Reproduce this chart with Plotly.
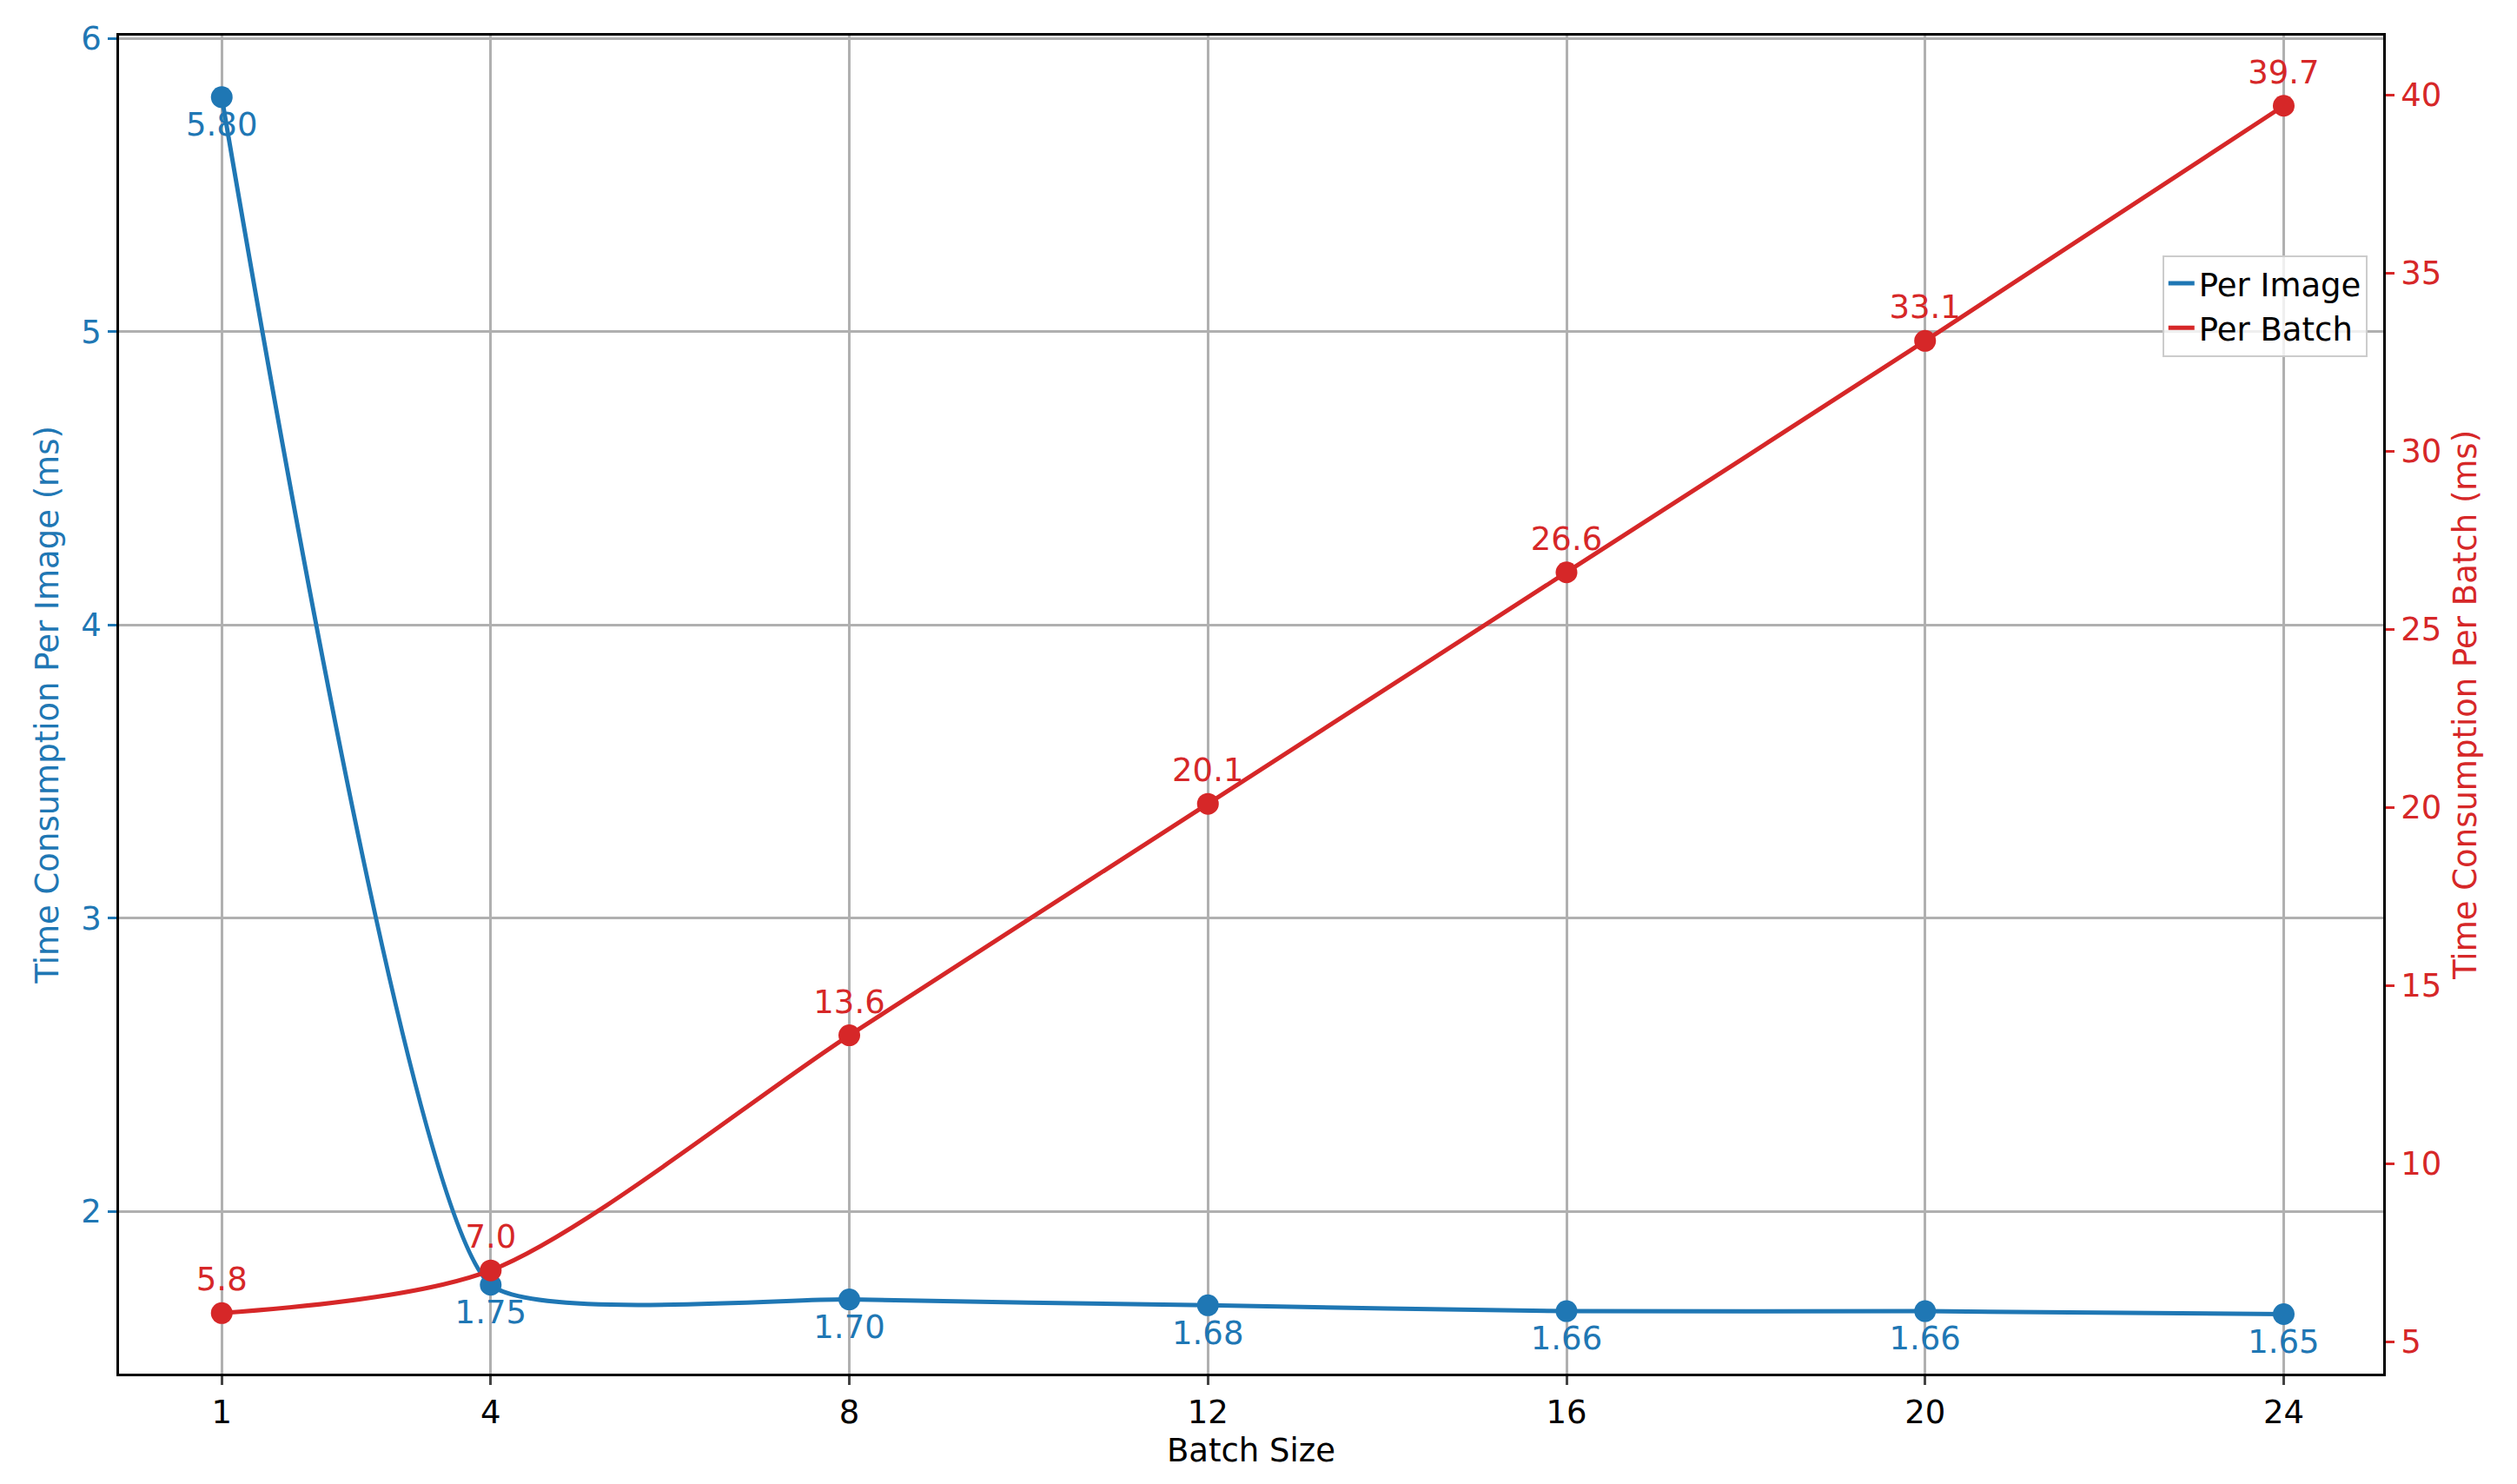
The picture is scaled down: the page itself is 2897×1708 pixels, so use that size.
import plotly.graph_objects as go

batch = [1, 4, 8, 12, 16, 20, 24]
per_image = [5.80, 1.75, 1.70, 1.68, 1.66, 1.66, 1.65]
per_batch = [5.8, 7.0, 13.6, 20.1, 26.6, 33.1, 39.7]
img_labels = ["5.80", "1.75", "1.70", "1.68", "1.66", "1.66", "1.65"]
batch_labels = ["5.8", "7.0", "13.6", "20.1", "26.6", "33.1", "39.7"]

BLUE = "#1f77b4"
RED = "#d62728"
FS = 37
FONT = dict(family="DejaVu Sans", size=FS, color="black")

fig = go.Figure()
fig.add_trace(go.Scatter(x=batch, y=per_image, mode="lines", name="Per Image",
                         line=dict(color=BLUE, width=5, shape="spline", smoothing=0.45)))
fig.add_trace(go.Scatter(x=batch, y=per_batch, mode="lines", name="Per Batch", yaxis="y2",
                         line=dict(color=RED, width=5, shape="spline", smoothing=0.8)))
fig.add_trace(go.Scatter(x=batch, y=per_image, mode="markers+text", showlegend=False,
                         marker=dict(color=BLUE, size=25), text=img_labels,
                         textposition="bottom center", textfont=dict(color=BLUE, size=FS)))
fig.add_trace(go.Scatter(x=batch, y=per_batch, mode="markers+text", showlegend=False, yaxis="y2",
                         marker=dict(color=RED, size=25), text=batch_labels,
                         textposition="top center", textfont=dict(color=RED, size=FS)))

axis_common = dict(showline=True, linecolor="black", linewidth=2.5, ticks="outside",
                   ticklen=10, tickwidth=2.5, zeroline=False)
fig.update_layout(
    width=2897, height=1708, font=FONT,
    plot_bgcolor="white", paper_bgcolor="white",
    margin=dict(l=129, r=2897 - 2735, t=33, b=1708 - 1573),
    xaxis=dict(title=dict(text="Batch Size", font=dict(size=FS), standoff=10), tickvals=batch,
               range=[-0.146, 25.11], showgrid=True, gridcolor="#b0b0b0", gridwidth=2.5,
               mirror=True, tickfont=dict(size=FS), **axis_common),
    yaxis=dict(title=dict(text="Time Consumption Per Image (ms)", font=dict(size=FS, color=BLUE)),
               range=[1.447, 6.01], dtick=1, tickcolor=BLUE, showgrid=True,
               gridcolor="#b0b0b0", gridwidth=2.5, tickfont=dict(size=FS, color=BLUE), **axis_common),
    yaxis2=dict(title=dict(text="Time Consumption Per Batch (ms)", font=dict(size=FS, color=RED)),
                overlaying="y", side="right", range=[4.1, 41.67], dtick=5,
                tickcolor=RED, showgrid=False, tickfont=dict(size=FS, color=RED), **axis_common),
    legend=dict(x=0.993, y=0.836, xanchor="right", yanchor="top", font=dict(size=FS),
                bordercolor="#cccccc", borderwidth=2, bgcolor="rgba(255,255,255,0.8)"),
)
fig.write_html("out.html")
